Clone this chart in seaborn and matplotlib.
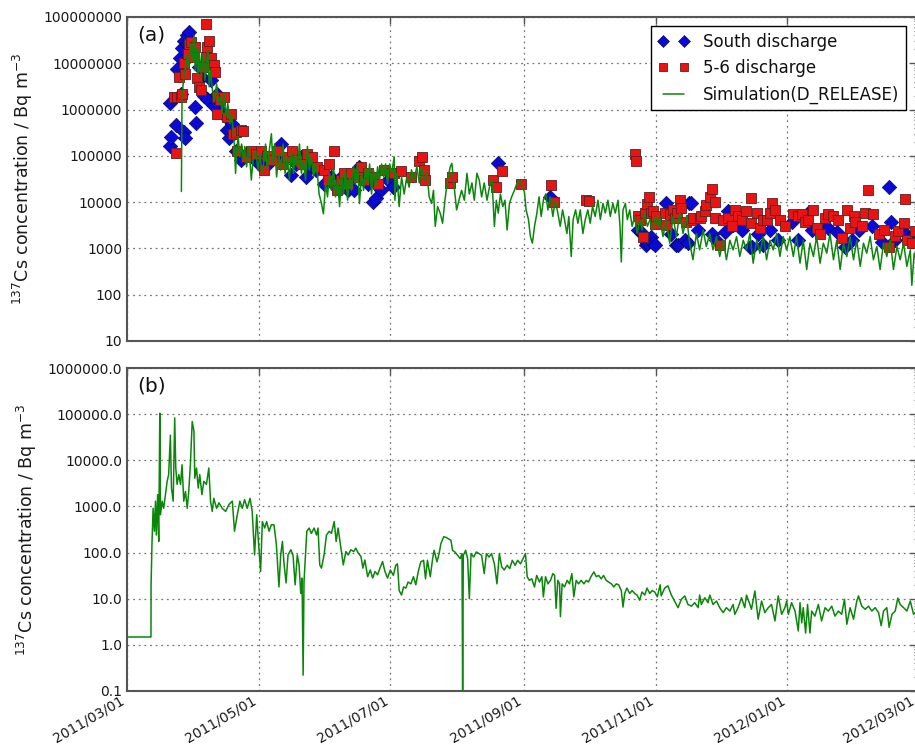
import numpy as np
import pandas as pd
import matplotlib
matplotlib.use("Agg")
import matplotlib.pyplot as plt
import matplotlib.dates as mdates
from matplotlib.ticker import FuncFormatter, LogLocator, NullFormatter
from matplotlib.lines import Line2D
import seaborn as sns

# ---------------- data (days since 2011-03-01, concentrations in Bq m^-3) ----------------
start_date = "2011-03-01"

# (a) simulation
sim_a_day = [
    25.2, 25.5, 26.3, 27.1, 27.9, 28.6, 29.4, 30.2, 31.0, 31.6,
    32.2, 32.8, 33.4, 34.4, 35.3, 36.1, 36.8, 37.5, 38.1, 38.7,
    39.6, 40.6, 41.5, 42.4, 43.3, 44.1, 44.9, 45.8, 46.7, 47.7,
    48.5, 49.2, 49.8, 50.3, 50.8, 51.5, 52.3, 53.1, 53.9, 54.6,
    55.4, 56.5, 57.6, 58.5, 59.6, 60.7, 61.6, 62.5, 63.5, 64.2,
    65.0, 65.9, 66.9, 67.6, 68.4, 69.3, 70.3, 71.2, 72.3, 73.2,
    74.3, 75.2, 76.2, 77.1, 78.0, 78.9, 79.9, 80.8, 81.7, 82.7,
    83.6, 84.5, 85.4, 86.4, 87.3, 88.2, 89.0, 90.1, 91.0, 92.0,
    92.9, 93.8, 94.7, 95.7, 96.6, 97.5, 98.5, 99.4, 100.3, 101.2,
    102.2, 103.1, 104.0, 105.0, 105.9, 106.8, 107.7, 108.7, 109.6, 110.5,
    111.5, 112.4, 113.3, 114.2, 115.2, 116.1, 117.0, 118.0, 118.9, 119.8,
    120.7, 121.7, 122.6, 123.8,
    124.1, 125.0, 126.1, 127.2, 128.4, 129.6, 130.7, 131.8, 133.0, 134.3,
    135.4, 136.4, 137.7, 138.9, 140.0, 141.1, 142.0, 142.8, 143.9, 145.1,
    146.2, 147.3, 148.5, 149.8, 150.5, 151.6, 152.7, 153.8, 155.0, 156.3,
    157.5, 158.6, 159.8, 160.9, 162.1, 163.2, 164.3, 165.5, 166.8, 167.9,
    169.1, 170.2, 171.1, 172.0, 173.0, 174.1, 175.1, 176.1, 177.2, 178.2,
    179.5, 180.7, 181.8, 182.9, 184.1, 184.9, 186.0, 186.9, 187.8, 188.8,
    189.9, 190.9, 191.9, 192.9, 194.0, 195.0, 196.0, 197.3, 198.4, 199.6,
    200.7, 201.8, 202.7, 203.8, 204.7, 205.8, 206.7, 207.8, 208.9, 210.0,
    211.2, 212.3, 213.5, 214.6, 215.7, 216.9, 218.2, 219.3, 220.5, 221.6,
    222.8, 223.9, 225.1, 226.2, 227.5, 228.4, 229.0, 229.8, 230.9, 231.8,
    232.9, 234.0, 235.2, 236.4, 237.5, 238.6, 239.8, 241.1, 242.3, 243.6,
    244.8, 246.1,
    246.8, 248.3, 249.9, 251.4, 253.0, 254.5, 256.1, 257.6, 259.2, 260.7,
    262.2, 263.8, 265.3, 266.9, 268.4, 270.0, 271.5, 273.1, 274.6, 276.2,
    277.7, 279.3, 280.8, 282.4, 283.9, 285.5, 287.0, 288.6, 290.1, 291.7,
    293.2, 294.8, 296.3, 297.9, 299.4, 301.0, 302.5, 304.0, 305.6, 307.1,
    308.7, 310.2, 311.8, 313.3, 314.9, 316.4, 318.0, 319.5, 321.1, 322.6,
    324.2, 325.7, 327.3, 328.8, 330.4, 331.9, 333.5, 335.0, 336.6, 338.1,
    339.7, 341.2, 342.7, 344.3, 345.8, 347.4, 348.9, 350.5, 352.0, 353.6,
    355.1, 356.7, 358.2, 359.8, 361.3, 362.9, 363.6, 364.7, 366.0,
]
sim_a_val = [
    1.7e4, 1.9e6, 5e6, 8.3e6, 1.6e7, 8.3e6, 2.6e7, 1.2e7, 4e7, 7e6,
    2.2e7, 5e6, 1.9e7, 6e6, 1.6e7, 4.3e6, 1e7, 1.9e7, 3.1e6, 7e6,
    2.6e6, 1.6e6, 3.6e6, 1.35e6, 1.9e6, 8.2e5, 2.2e6, 7e5, 1.35e6, 5e5,
    8.2e5, 3e5, 1.6e5, 4.2e4, 1.3e5, 2.6e5, 9.5e4, 1.8e5, 8e4, 1.6e5,
    5.8e4, 1.6e5, 3e4, 9.5e4, 1.3e5, 4.9e4, 1.1e5, 4.2e4, 8e4, 1.8e5,
    4.9e4, 1.3e5, 3e5, 6.7e4, 1.8e5, 3.5e4, 1.1e5, 4.9e4, 1.8e5, 4.2e4,
    9.5e4, 3e4, 1.3e5, 4.2e4, 1.1e5, 5.8e4, 1.8e5, 4.2e4, 8e4, 3e4,
    1.6e5, 4.9e4, 9.5e4, 3.5e4, 6.7e4, 4.2e4, 1.5e4, 9.3e3, 5.6e3, 2.5e4,
    1.3e4, 4.2e4, 1.8e4, 5.8e4, 1.3e4, 3e4, 8e3, 4.2e4, 1.5e4, 4.9e4,
    1.1e4, 3.5e4, 1.8e4, 5.8e4, 2.5e4, 6.7e4, 9.3e3, 4.2e4, 1.8e4, 5.8e4,
    2.5e4, 6.7e4, 1.5e4, 4.9e4, 2.1e4, 5.8e4, 3e4, 6.7e4, 3.5e4, 6.7e4,
    2.5e4, 6.7e4, 4.2e4, 9.5e4,
    1.1e4, 4.2e4, 8e3, 3.5e4, 1.5e4, 3.5e4, 2.1e4, 5e4, 3e4, 5.9e4,
    2.6e4, 5.9e4, 3e4, 4.6e4, 1.3e4, 9.4e3, 1.8e4, 3e3, 8e3, 5.8e3,
    3.5e3, 1.1e4, 3e4, 5.9e4, 6.9e4, 2.1e4, 6.8e3, 1.1e4, 1.8e4, 1.1e4,
    4.2e4, 1.5e4, 2.6e4, 1.1e4, 4.2e4, 3e4, 1.3e4, 2.6e4, 1.1e4, 2.1e4,
    3e4, 3e3, 1.1e4, 5.8e3, 1.5e4, 8e3, 1.1e4, 2.5e3, 9.4e3, 1.3e4,
    1.8e4, 2.6e4, 3e4, 2.1e4, 1.7e4, 6.8e3, 4.2e3, 1.8e3, 1.3e3, 3e3,
    5.8e3, 1.3e4, 4.9e3, 1.1e4, 1.5e4, 6.8e3, 1.3e4, 4.9e3, 1.1e4, 5.8e3,
    3e3, 6.8e3, 4.2e3, 2.1e3, 4.9e3, 670, 4.2e3, 6.8e3, 3.5e3, 6.8e3,
    2.1e3, 4.2e3, 6.8e3, 3.5e3, 8e3, 4.9e3, 1.1e4, 4.2e3, 9.4e3, 5.8e3,
    1.1e4, 4.9e3, 9.4e3, 5.8e3, 1.1e4, 3e3, 510, 6.8e3, 9.4e3, 4.2e3,
    6.8e3, 3e3, 4.9e3, 2.1e3, 4.2e3, 2.5e3, 5.8e3, 3e3, 4.2e3, 2.5e3,
    4.9e3, 3e3,
    4.9e3, 1.8e3, 4.2e3, 1.3e3, 4.9e3, 1.8e3, 5.8e3, 2.1e3, 4.9e3, 1.3e3,
    570, 2.1e3, 930, 2.5e3, 1.1e3, 2.1e3, 930, 1.8e3, 670, 1.5e3,
    570, 1.5e3, 930, 1.8e3, 670, 1.5e3, 930, 2.1e3, 480, 1.5e3,
    790, 1.8e3, 570, 1.5e3, 930, 2.1e3, 670, 1.8e3, 930, 1.8e3,
    670, 1.8e3, 480, 1.5e3, 350, 1.3e3, 670, 1.8e3, 480, 1.3e3,
    790, 2.1e3, 570, 1.5e3, 350, 1.3e3, 670, 1.8e3, 570, 1.5e3,
    410, 1.3e3, 790, 1.8e3, 570, 1.1e3, 350, 1.3e3, 670, 1.5e3,
    350, 1.1e3, 570, 1.3e3, 410, 930, 160, 790, 480,
]

# (a) observations: South discharge
south_day = [
    19.8, 20.1, 20.6, 22.9, 23.2, 24.5, 24.8, 25.5, 26.3, 26.6,
    27.1, 27.6, 27.9, 28.6, 29.4, 31.7, 32.0, 33.3, 34.8, 35.9,
    37.2, 38.7, 40.2, 41.8, 44.1, 45.7, 46.4, 47.2, 48.8, 50.3,
    52.6, 55.0, 58.0, 61.1, 65.0, 68.9, 71.2, 72.8, 75.9, 78.2,
    80.5, 82.8, 85.1, 87.5, 91.3, 94.4, 96.7, 99.1, 102.2, 105.3,
    107.6, 111.5, 113.8, 115.3, 117.6, 120.7, 123.4, 171.7, 196.2, 236.7,
    238.3, 240.6, 241.1, 242.9, 243.8, 244.4, 249.9, 252.2, 254.5, 255.4,
    258.4, 259.9, 260.6, 261.2, 264.6, 270.8, 273.1, 276.9, 278.5, 280.8,
    284.7, 288.6, 289.4, 292.4, 294.8, 297.9, 301.7, 307.9, 311.0, 315.7,
    317.2, 321.8, 324.9, 328.8, 332.7, 335.8, 338.9, 345.1, 349.7, 353.1,
    354.0, 355.9, 359.0, 362.1, 364.4,
]
south_val = [
    1.4e6, 1.6e5, 2.6e5, 4.6e5, 7.6e6, 1.3e7, 2.2e6, 2.1e7, 3.3e5, 3.1e7,
    2.4e5, 4e7, 2.6e7, 4.8e7, 1.9e7, 1.15e6, 5.2e5, 8.3e6, 5e6, 2e6,
    1.7e6, 4.3e6, 1.2e6, 2.2e6, 9e5, 7e5, 3.6e5, 2.4e5, 5e5, 1.3e5,
    8e4, 1.1e5, 9.5e4, 6.7e4, 6.3e4, 9.5e4, 1.8e5, 8e4, 3.8e4, 6.7e4,
    9.5e4, 3.5e4, 5.8e4, 4.9e4, 2.5e4, 3.5e4, 2.1e4, 3.5e4, 1.8e4, 1.8e4,
    5.8e4, 2.5e4, 1e4, 1.2e4, 1.8e4, 3e4, 2.1e4, 6.9e4, 1.3e4, 2.5e3,
    2.3e3, 1.2e3, 1.3e3, 1.8e3, 1.3e3, 1.2e3, 9.5e3, 2.1e3, 1.2e3, 1.2e3,
    1.5e3, 1.3e3, 9.5e3, 9.5e3, 2.5e3, 2.1e3, 1.5e3, 2.3e3, 6.3e3, 3.2e3,
    2.5e3, 1.1e3, 1.07e3, 2.1e3, 1.2e3, 2.5e3, 1.5e3, 3.8e3, 1.5e3, 5.9e3,
    2.5e3, 2.8e3, 2.8e3, 2.3e3, 1.1e3, 1.5e3, 2.5e3, 3e3, 1.4e3, 2.1e4,
    3.7e3, 1.5e3, 2.5e3, 1.7e3, 2e3,
]

# (a) observations: 5-6 discharge
unit56_day = [
    21.7, 22.9, 23.2, 24.0, 24.8, 25.5, 26.3, 27.1, 28.2, 28.6,
    29.7, 31.0, 31.7, 32.5, 33.3, 34.4, 35.3, 36.4, 36.7, 37.2,
    37.9, 38.7, 40.2, 41.0, 41.5, 41.8, 43.3, 44.9, 46.4, 48.0,
    49.2, 50.3, 51.1, 52.6, 53.9, 55.0, 57.3, 59.6, 61.9, 63.5,
    65.0, 67.3, 69.7, 72.0, 74.3, 76.6, 78.9, 81.3, 83.6, 85.9,
    88.2, 91.3, 92.9, 93.7, 95.7, 96.7, 97.5, 99.1, 100.6, 102.2,
    103.7, 106.8, 108.4, 109.9, 111.5, 114.6, 116.1, 119.2, 122.3, 123.7,
    126.8, 131.5, 135.4, 136.6, 137.7, 138.2, 149.8, 150.5, 169.4, 171.1,
    173.7, 182.6, 196.5, 197.7, 212.8, 214.0, 235.2, 236.0, 236.7, 237.5,
    239.1, 239.8, 240.9, 241.7, 242.9, 243.7, 244.5, 245.2, 249.1, 249.9,
    251.4, 253.0, 254.0, 255.0, 256.1, 256.8, 259.2, 261.5, 262.2, 265.3,
    266.1, 267.7, 268.4, 270.0, 270.8, 272.3, 272.6, 274.6, 276.2, 278.5,
    280.1, 281.6, 283.1, 285.0, 287.0, 289.0, 289.3, 291.7, 293.2, 294.8,
    296.3, 297.9, 298.9, 300.2, 302.5, 304.8, 308.7, 311.0, 312.6, 314.1,
    315.7, 318.0, 319.5, 321.1, 323.4, 324.9, 327.3, 329.6, 331.1, 333.5,
    335.0, 336.6, 337.3, 340.4, 342.0, 343.5, 345.8, 348.2, 350.5, 352.8,
    355.9, 357.4, 359.8, 360.5, 361.3, 363.6, 365.2,
]
unit56_val = [
    1.9e6, 1.15e5, 1.9e6, 5e6, 1.9e6, 2.2e6, 1e7, 6e6, 1.6e7, 2.6e7,
    2.9e7, 1.4e7, 2.2e7, 4.7e6, 3.1e6, 2.6e6, 8.3e6, 1.4e7, 6.9e7, 2.2e7,
    3.1e7, 1.3e7, 9e6, 6.5e6, 8.2e5, 1.9e6, 1.6e6, 1.9e6, 7e5, 8.2e5,
    3e5, 3.3e5, 1.3e5, 3.6e5, 3.4e5, 9.5e4, 1.3e5, 1.1e5, 1.3e5, 4.9e4,
    1e5, 8e4, 1.3e5, 6.7e4, 9.5e4, 1.3e5, 8e4, 6.7e4, 1.1e5, 9.5e4,
    5.8e4, 4.9e4, 3e4, 6.7e4, 1.25e5, 2.5e4, 1.8e4, 3e4, 4.2e4, 2.5e4,
    4.2e4, 3.5e4, 5.8e4, 3e4, 4.2e4, 3.5e4, 2.5e4, 4.9e4, 4.2e4, 4.2e4,
    4.6e4, 3.5e4, 7.6e4, 9.6e4, 5e4, 3e4, 2.6e4, 3.5e4, 3e4, 2.1e4,
    4.8e4, 2.5e4, 2.4e4, 1e4, 1.1e4, 1.05e4, 1.1e5, 7.8e4, 4.9e3, 4.2e3,
    1.8e3, 5.9e3, 9.1e3, 1.3e4, 5.8e3, 6.3e3, 3.4e3, 4.9e3, 5.9e3, 3.2e3,
    5.5e3, 6.8e3, 4.6e3, 5.9e3, 1.1e4, 7.3e3, 3.8e3, 4.1e3, 4.6e3, 4.6e3,
    4.9e3, 6.3e3, 8.7e3, 1.3e4, 1.9e4, 1e4, 4.6e3, 1.2e3, 4.1e3, 4.6e3,
    3e3, 6.8e3, 4.9e3, 4.1e3, 6.3e3, 1.2e4, 3.5e3, 5.9e3, 2.8e3, 4.1e3,
    4.1e3, 5.9e3, 9.8e3, 6.8e3, 4.1e3, 3e3, 5.5e3, 4.9e3, 5.5e3, 3.8e3,
    4.1e3, 6.8e3, 2.8e3, 2.1e3, 4.6e3, 5.5e3, 4.9e3, 4.1e3, 1.7e3, 6.9e3,
    2.8e3, 4.9e3, 3.8e3, 3e3, 5.9e3, 1.8e4, 5.5e3, 2.1e3, 2.5e3, 1.1e3,
    1.9e3, 2.4e3, 3.5e3, 1.15e4, 1.5e3, 1.3e3, 2.4e3,
]

# (b) simulation
sim_b_day = [
    0.0, 11.1, 11.15, 11.6, 12.1, 12.7, 13.2, 13.6, 14.2, 14.7,
    15.2, 15.5, 16.3, 17.0, 17.8, 18.6, 19.3, 20.1, 20.6, 21.4,
    22.1, 22.6, 23.2, 24.0, 24.8, 25.5, 26.3, 27.1, 27.9, 28.6,
    29.4, 30.2, 31.0, 31.4, 32.2, 33.0, 33.7, 34.7, 35.6, 36.8,
    37.9, 38.7, 39.5, 40.2, 41.5, 42.6, 44.1, 45.7, 47.2, 48.8,
    49.8, 51.1, 52.3, 53.4, 54.5, 55.7, 57.0, 58.0, 59.1, 60.1,
    60.8, 61.9, 62.7, 63.8, 64.7, 65.8, 66.9, 68.1, 69.2, 70.4,
    71.2, 72.0, 72.8, 73.7, 74.6, 75.9, 76.9, 77.9, 78.9, 79.7,
    80.5, 81.1, 81.6, 82.0, 83.3, 84.4, 85.4, 86.7, 87.8, 88.5,
    89.3, 90.1, 91.3, 92.4, 93.7, 94.7, 96.0, 96.9, 97.8, 99.1,
    100.2, 101.4, 102.5, 103.7, 105.0, 106.0, 107.1, 108.4, 109.3, 110.2,
    111.5, 112.7, 113.8, 114.9, 116.1, 117.2, 118.4, 119.5, 120.7, 122.0,
    123.4, 124.5, 125.3, 126.1, 127.2, 128.1, 129.2, 130.2, 131.5, 132.7,
    133.8, 134.9, 136.1, 137.4, 138.3, 139.2, 140.5, 141.6, 142.3, 143.6,
    144.6, 145.4, 146.7, 147.7, 148.8, 150.1, 150.8, 151.9, 153.2, 154.4,
    155.2, 155.5, 155.8, 156.9, 157.8, 158.6, 159.4, 160.6, 161.8, 163.1,
    164.3, 165.5, 166.5, 167.7, 168.9, 170.2, 171.4, 172.5, 173.6, 174.8,
    176.1, 177.3, 178.5, 179.8, 181.0, 182.3, 183.5, 184.6, 185.4, 186.4,
    187.5, 188.8, 189.8, 191.1, 192.2, 192.9, 193.9, 195.0, 196.2, 197.3,
    198.1, 198.8, 199.6, 200.4, 200.8, 201.6, 202.7, 203.9, 205.0, 206.1,
    207.0, 208.1, 209.2, 210.4, 211.7, 212.8, 213.8, 215.1, 216.3, 217.4,
    218.5, 219.7, 220.8, 222.0, 223.1, 224.4, 225.5, 226.7, 227.8, 229.0,
    229.8, 230.6, 231.6, 232.9, 234.0, 235.2, 236.3, 237.5, 238.6, 239.9,
    240.9, 242.2, 243.3, 244.5, 245.7, 247.0, 247.5, 249.1, 250.6, 252.2,
    253.7, 255.3, 256.8, 258.4, 259.9, 261.5, 263.0, 264.6, 265.3, 266.1,
    267.7, 269.2, 270.0, 271.5, 273.1, 274.6, 276.2, 277.7, 279.3, 280.8,
    281.6, 283.1, 284.7, 286.2, 287.0, 288.6, 289.3, 290.9, 292.4, 294.0,
    295.5, 297.1, 298.6, 300.2, 301.7, 303.3, 304.8, 305.6, 306.4, 307.9,
    309.5, 311.0, 311.8, 312.6, 313.3, 314.4, 315.3, 316.4, 317.2, 318.7,
    320.3, 321.8, 323.4, 324.9, 326.5, 328.0, 329.6, 331.1, 332.4, 333.5,
    335.0, 336.6, 338.1, 338.9, 340.4, 342.0, 343.5, 345.1, 346.6, 348.2,
    349.4, 350.5, 352.0, 353.1, 354.4, 355.9, 357.1, 358.2, 359.8, 361.3,
    362.9, 364.4, 366.0,
]
sim_b_val = [
    1.48, 1.48, 20, 174, 910, 290, 1300, 240, 1800, 174,
    105000, 660, 1300, 910, 1800, 3500, 4900, 35000, 2500, 1300,
    83000, 6800, 3000, 4900, 3000, 8000, 1300, 2100, 910, 2100,
    8700, 69000, 43000, 4100, 6800, 2500, 4900, 1800, 3500, 3000,
    6800, 1300, 780, 1500, 910, 1200, 910, 780, 1100, 1300,
    290, 660, 1300, 910, 1400, 910, 1500, 780, 89, 660,
    200, 39, 470, 340, 470, 290, 400, 400, 150, 18,
    89, 174, 54, 22, 89, 115, 89, 20, 89, 54,
    13, 28, 0.22, 23, 290, 340, 260, 340, 240, 340,
    54, 46, 89, 240, 290, 260, 470, 174, 340, 125,
    54, 105, 89, 115, 105, 125, 98, 82, 46, 69,
    30, 42, 28, 39, 33, 46, 64, 39, 28, 42,
    32, 53, 57, 15, 12, 18, 17, 23, 21, 30,
    20, 38, 63, 68, 27, 68, 30, 74, 112, 63,
    95, 155, 220, 215, 200, 185, 112, 103, 87, 74,
    95, 0.1, 87, 112, 74, 10, 95, 80, 103, 95,
    87, 35, 95, 80, 95, 57, 21, 95, 49, 42,
    53, 45, 68, 53, 68, 57, 74, 95, 30, 25,
    27, 18, 32, 23, 30, 11, 30, 21, 25, 35,
    32, 6.2, 25, 21, 4.1, 21, 18, 25, 21, 35,
    11, 25, 21, 25, 21, 25, 23, 31, 38, 30,
    32, 27, 32, 25, 23, 21, 18, 21, 20, 15,
    6.6, 13, 17, 13, 15, 13, 12, 9.3, 14, 12,
    17, 13, 15, 14, 11, 20, 11.5, 17, 19, 12,
    8.9, 6.4, 9.7, 11.5, 7.5, 6.9, 8.2, 6.4, 12, 7.5,
    10.5, 8.2, 12, 7.5, 8.9, 6.4, 5.0, 6.4, 5.4, 7.5,
    4.6, 6.4, 10.5, 6.4, 12, 7.5, 5.9, 14.7, 3.6, 8.9,
    5.0, 6.4, 7.5, 3.3, 11.5, 4.6, 6.4, 8.9, 4.6, 8.2,
    5.4, 2.0, 8.2, 3.0, 6.4, 1.8, 7.5, 1.8, 5.4, 4.2,
    7.5, 3.3, 6.4, 5.4, 6.9, 4.2, 5.4, 4.6, 9.7, 2.8,
    6.4, 3.6, 8.9, 11.5, 6.9, 5.9, 6.9, 5.4, 6.4, 5.0,
    2.6, 5.4, 6.4, 2.4, 4.6, 5.4, 10.3, 7.5, 6.4, 5.4,
    8.9, 4.6, 5.4,
]

xtick_dates = ["2011-03-01", "2011-05-01", "2011-07-01", "2011-09-01",
               "2011-11-01", "2012-01-01", "2012-03-01"]
legend_labels = ["South discharge", "5-6 discharge", "Simulation(D_RELEASE)"]
panel_labels = ["(a)", "(b)"]
ylabel_text = r"$^{137}$Cs concentration / Bq m$^{-3}$"

# ---------------- styling ----------------
sns.set_theme(style="white")
plt.rcParams["font.family"] = ["DejaVu Sans"]
plt.rcParams["mathtext.fontset"] = "cm"
plt.rcParams["mathtext.default"] = "regular"

BLUE = "#0a0ad2"
RED = "#e81414"
GREEN = "#0b860b"
SPINE = "#555555"

base = pd.Timestamp(start_date)
def to_dates(days):
    return base + pd.to_timedelta(np.asarray(days, dtype=float), unit="D")

fig = plt.figure(figsize=(9.15, 7.45), dpi=100)
W, H = 915.0, 745.0
ax1 = fig.add_axes([127 / W, 1 - 341 / H, (917 - 127) / W, 324 / H])
ax2 = fig.add_axes([127 / W, 1 - 691 / H, (917 - 127) / W, 323 / H])

# panel (a)
sns.scatterplot(x=to_dates(south_day), y=south_val, ax=ax1, marker="D", s=55,
                color=BLUE, edgecolor="#00004a", linewidth=0.4, zorder=3, legend=False)
sns.scatterplot(x=to_dates(unit56_day), y=unit56_val, ax=ax1, marker="s", s=62,
                color=RED, edgecolor="#5a2020", linewidth=0.6, zorder=4, legend=False)
sns.lineplot(x=to_dates(sim_a_day), y=sim_a_val, ax=ax1, color=GREEN, lw=1.1,
             estimator=None, sort=False, zorder=5)

# panel (b)
sns.lineplot(x=to_dates(sim_b_day), y=sim_b_val, ax=ax2, color=GREEN, lw=1.1,
             estimator=None, sort=False, zorder=5)

xt = pd.to_datetime(xtick_dates)
for ax, (ylo, yhi), fmt, lab in [(ax1, (10, 1e8), "{:.0f}", panel_labels[0]),
                                 (ax2, (0.1, 1e6), "{:.1f}", panel_labels[1])]:
    ax.set_yscale("log")
    ax.set_ylim(ylo, yhi)
    ax.set_xlim(pd.Timestamp("2011-03-01"), pd.Timestamp("2012-03-01"))
    ax.yaxis.set_major_locator(LogLocator(base=10, numticks=20))
    ax.yaxis.set_minor_locator(LogLocator(base=10, subs=np.arange(2, 10), numticks=20))
    ax.yaxis.set_minor_formatter(NullFormatter())
    ax.yaxis.set_major_formatter(FuncFormatter(lambda v, p, f=fmt: f.format(v)))
    ax.set_xticks(xt)
    ax.xaxis.set_major_formatter(mdates.DateFormatter("%Y/%m/%d"))
    ax.grid(True, which="major", ls=(0, (1.5, 3)), color="#777777", lw=0.9)
    ax.tick_params(axis="both", which="major", direction="in", length=5, width=1,
                   color=SPINE, top=True, right=True, labelsize=10, labelcolor="#1a1a1a")
    ax.tick_params(axis="both", which="minor", direction="in", length=2.5, width=0.8,
                   color=SPINE, top=True, right=True)
    ax.tick_params(axis="x", which="major", pad=1.5)
    for sp in ax.spines.values():
        sp.set_color(SPINE)
        sp.set_linewidth(1.5)
    ax.set_xlabel("")
    ax.set_ylabel(ylabel_text, fontsize=12.5, color="#1a1a1a", labelpad=6)
    ax.text(0.013, 0.975, lab, transform=ax.transAxes, fontsize=14.5,
            va="top", ha="left", color="#111111")

ax1.tick_params(axis="x", labelbottom=False)
for t in ax2.get_xticklabels():
    t.set_rotation(30)
    t.set_ha("right")
    t.set_rotation_mode("default")

handles = [
    Line2D([], [], ls="none", marker="D", markersize=6.5, color=BLUE,
           markeredgecolor="#00004a", markeredgewidth=0.4),
    Line2D([], [], ls="none", marker="s", markersize=6, color=RED,
           markeredgecolor="#5a2020", markeredgewidth=0.6),
    Line2D([], [], color=GREEN, lw=1.1),
]
leg = ax1.legend(handles, legend_labels, loc="upper right", numpoints=2,
                 fontsize=12, frameon=True, fancybox=False, framealpha=1,
                 edgecolor="black", handlelength=1.9, borderaxespad=0.55,
                 bbox_to_anchor=(1 - 2 / 790, 1))
leg.get_frame().set_linewidth(1.0)
for t in leg.get_texts():
    t.set_color("#111111")

fig.savefig("out.png", dpi=100)
